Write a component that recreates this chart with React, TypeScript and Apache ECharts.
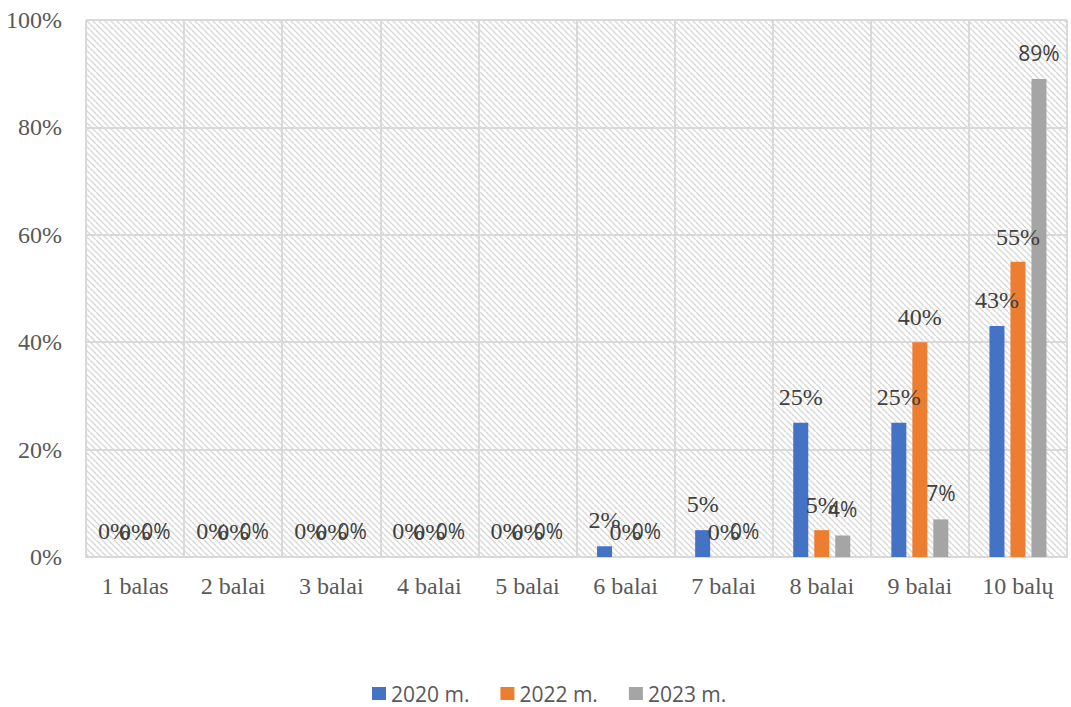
import React, { useEffect, useRef } from "react";
import * as echarts from "echarts";

const categories = ["1 balas", "2 balai", "3 balai", "4 balai", "5 balai", "6 balai", "7 balai", "8 balai", "9 balai", "10 balų"];
const seriesNames = ["2020 m.", "2022 m.", "2023 m."];
const values2020 = [0, 0, 0, 0, 0, 2, 5, 25, 25, 43];
const values2022 = [0, 0, 0, 0, 0, 0, 0, 5, 40, 55];
const values2023 = [0, 0, 0, 0, 0, 0, 0, 4, 7, 89];
const yTicks = [0, 20, 40, 60, 80, 100];

const colors = ["#4472c4", "#ed7d31", "#a5a5a5"];
const SERIF = "Liberation Serif";
const SANS = "Open Sans";

function makeHatch(): string {
  const size = 6;
  const c = document.createElement("canvas");
  c.width = size;
  c.height = size;
  const ctx = c.getContext("2d");
  if (ctx) {
    ctx.fillStyle = "#ffffff";
    ctx.fillRect(0, 0, size, size);
    ctx.strokeStyle = "#d9d9d9";
    ctx.lineWidth = 1.5;
    for (const k of [-size, 0, size]) {
      ctx.beginPath();
      ctx.moveTo(k, 0);
      ctx.lineTo(k + size, size);
      ctx.stroke();
    }
  }
  return c.toDataURL();
}

export default function App() {
  const ref = useRef<HTMLDivElement>(null);
  useEffect(() => {
    if (!ref.current) return;
    const chart = echarts.init(ref.current, undefined, { renderer: "svg" });
    const hatch = makeHatch();
    const mk = (idx: number, data: number[], font: string, size: number, dist: number) => ({
      name: seriesNames[idx],
      type: "bar",
      data,
      barWidth: 15,
      barGap: "40%",
      itemStyle: { color: colors[idx] },
      label: {
        show: true,
        position: "top",
        distance: dist,
        formatter: "{c}%",
        color: "#404040",
        fontFamily: font,
        fontSize: size,
      },
    });
    chart.setOption({
      animation: false,
      backgroundColor: "#ffffff",
      grid: {
        left: 86,
        right: 4,
        top: 20,
        bottom: 150,
        show: true,
        borderWidth: 0,
        backgroundColor: { image: hatch, repeat: "repeat", imageWidth: 6, imageHeight: 6 },
      },
      legend: {
        data: seriesNames,
        top: 683,
        left: 372,
        padding: 0,
        itemWidth: 14,
        itemHeight: 13,
        itemGap: 31,
        icon: "rect",
        textStyle: { color: "#595959", fontSize: 21, fontFamily: SANS, lineHeight: 21 },
      },
      xAxis: {
        type: "category",
        data: categories,
        axisLine: { show: true, lineStyle: { color: "#d9d9d9", width: 2 } },
        axisTick: { show: false },
        splitLine: { show: true, interval: 0, lineStyle: { color: "#d9d9d9", width: 2 } },
        axisLabel: { color: "#595959", fontFamily: SERIF, fontSize: 24, margin: 17, interval: 0 },
      },
      yAxis: {
        type: "value",
        min: yTicks[0],
        max: yTicks[yTicks.length - 1],
        interval: 20,
        axisLine: { show: false },
        axisTick: { show: false },
        splitLine: { show: true, lineStyle: { color: "#d9d9d9", width: 2 } },
        axisLabel: { color: "#595959", fontFamily: SERIF, fontSize: 24, margin: 24, formatter: "{value}%" },
      },
      series: [
        mk(0, values2020, SERIF, 24, 14),
        mk(1, values2022, SERIF, 24, 13),
        mk(2, values2023, SANS, 21, 16),
      ],
    });
    return () => chart.dispose();
  }, []);
  return <div ref={ref} style={{ width: 1071, height: 707, position: "absolute", left: 0, top: 0 }} />;
}
